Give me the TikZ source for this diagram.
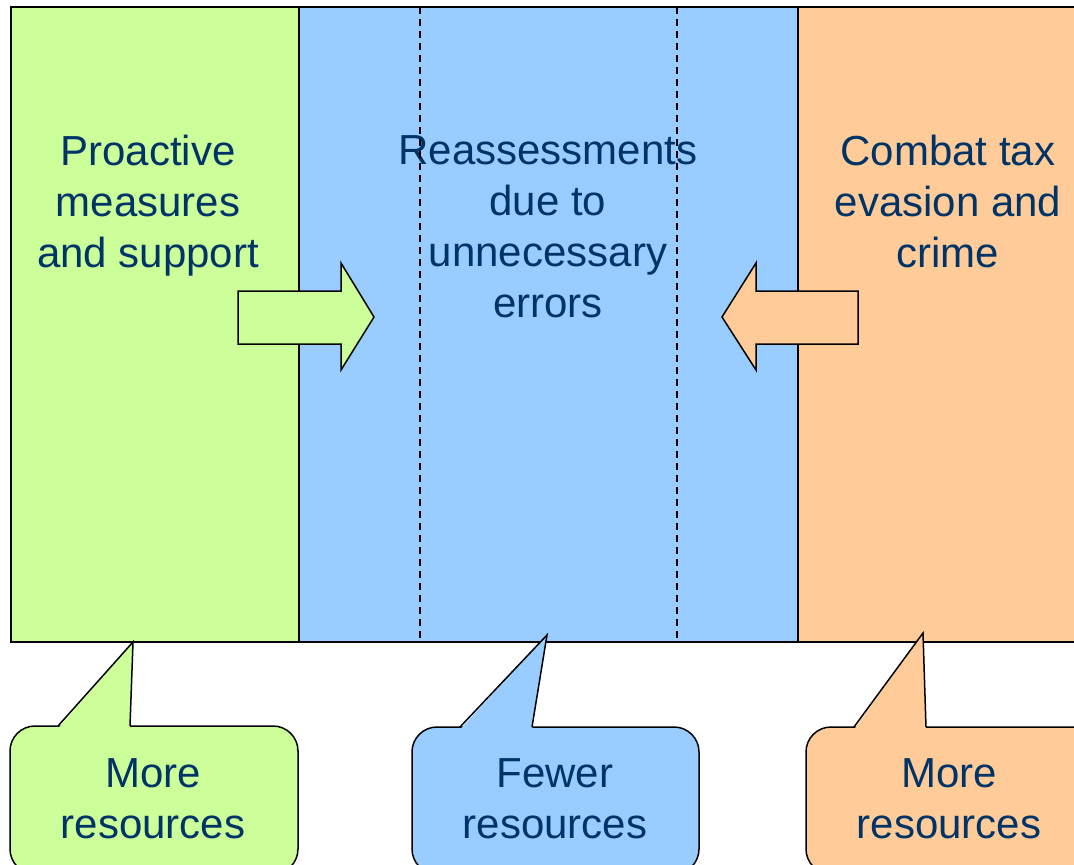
\documentclass[tikz,border=0pt]{standalone}
\usepackage{fontspec}
\setmainfont{Liberation Sans}
\definecolor{cgreen}{HTML}{CCFF99}
\definecolor{cblue}{HTML}{99CCFF}
\definecolor{corange}{HTML}{FFCC99}
\definecolor{ctext}{HTML}{003366}
\begin{document}
\begin{tikzpicture}[x=1pt,y=-1pt,
  region/.style={draw=black,line width=1.5pt},
  divider/.style={draw=black,line width=1.3pt,dash pattern=on 7pt off 5pt},
  bigarrow/.style={draw=black,line width=1.5pt,line join=miter},
  callout/.style={draw=black,line width=1.5pt,rounded corners=25pt},
  lbl/.style={text=ctext,align=center,font=\fontsize{42}{51}\selectfont,inner sep=0pt}]
\useasboundingbox (0,0) rectangle (1074,865);
\clip (0,0) rectangle (1074,865);
% regions
\path[region,fill=cgreen] (11,7) rectangle (299,642);
\path[region,fill=cblue] (299,7) rectangle (798,642);
\path[region,fill=corange] (798,7) rectangle (1090,642);
% texts
\node[lbl] (t1) at (148,206) {Proactive\\measures\\and support};
\node[lbl] (t2) at (548,227) {Reassessments\\due to\\unnecessary\\errors};
\node[lbl] (t3) at (948,201) {Combat tax\\evasion and\\crime};
% dashed dividers
\coordinate (d1t) at (420,7); \coordinate (d1b) at (420,642);
\coordinate (d2t) at (677,7); \coordinate (d2b) at (677,642);
\draw[divider] (d1t) -- (d1b);
\draw[divider] (d2t) -- (d2b);
% block arrows
\draw[bigarrow,fill=cgreen] (238,291) -- (341,291) -- (341,263) -- (374,317) -- (341,370) -- (341,344) -- (238,344) -- cycle;
\draw[bigarrow,fill=corange] (858,291) -- (756,291) -- (756,263) -- (722,317) -- (756,370) -- (756,344) -- (858,344) -- cycle;
% callouts
\draw[callout,fill=cgreen] (10,726) rectangle (298,874);
\fill[cgreen] (58,728.5) -- (133,642) -- (130,728.5) -- cycle;
\draw[line width=1.5pt,line join=miter] (58,726) -- (133,642) -- (130,726);
\draw[callout,fill=cblue] (412,727) rectangle (699,874);
\fill[cblue] (460,729.5) -- (547,635) -- (532,729.5) -- cycle;
\draw[line width=1.5pt,line join=miter] (460,727) -- (547,635) -- (532,727);
\draw[callout,fill=corange] (806,727) rectangle (1110,874);
\fill[corange] (854,729.5) -- (923,633) -- (926,729.5) -- cycle;
\draw[line width=1.5pt,line join=miter] (854,727) -- (923,633) -- (926,727);
\node[lbl] (c1) at (153,799) {More\\resources};
\node[lbl] (c2) at (555,799) {Fewer\\resources};
\node[lbl] (c3) at (949,799) {More\\resources};
\end{tikzpicture}
\end{document}
